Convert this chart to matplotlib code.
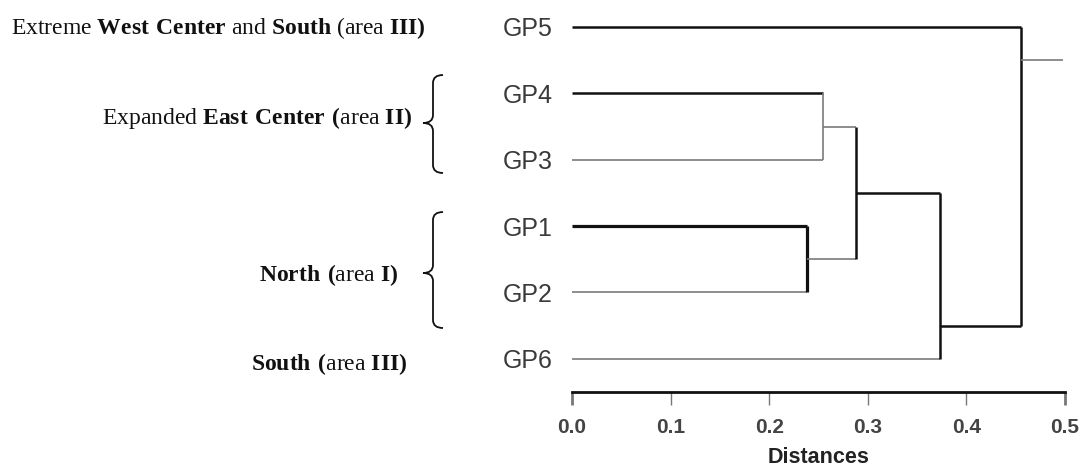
import matplotlib
matplotlib.use("Agg")
import matplotlib.pyplot as plt
from matplotlib.path import Path
from matplotlib.patches import PathPatch

plt.rcParams['mathtext.fontset'] = 'custom'
plt.rcParams['mathtext.rm'] = 'Liberation Serif'
plt.rcParams['mathtext.bf'] = 'Liberation Serif:bold'

# leaves from top to bottom
leaves = ["GP5", "GP4", "GP3", "GP1", "GP2", "GP6"]
rows = [0, 1, 2, 3, 4, 5]

# merge distances
h_gp4_gp3 = 0.255
h_gp1_gp2 = 0.238
h_pair = 0.288
h_gp6 = 0.373
h_gp5 = 0.455
h_root = 0.498

xticks = [0.0, 0.1, 0.2, 0.3, 0.4, 0.5]
xticklabels = ["0.0", "0.1", "0.2", "0.3", "0.4", "0.5"]

group_labels = [
    r"Extreme $\mathbf{West\ Center}$ and $\mathbf{South}$ (area $\mathbf{III)}$",
    r"Expanded $\mathbf{East\ Center\ (}$area $\mathbf{II)}$",
    r"$\mathbf{North\ (}$area $\mathbf{I)}$",
    r"$\mathbf{South\ (}$area $\mathbf{III)}$",
]

W, H = 1086, 468
fig = plt.figure(figsize=(W / 100, H / 100), dpi=100)

# dendrogram axes
ax = fig.add_axes([572 / W, (H - 392) / H, 493 / W, 391.6 / H])
ax.set_xlim(0, 0.5)
ax.set_ylim(5.5, -0.4)

black = dict(color="#111111", lw=1.8, solid_capstyle="butt")
thick = dict(color="#111111", lw=2.3, solid_capstyle="butt")
grey = dict(color="#7a7a7a", lw=1.2, solid_capstyle="butt")

r5, r4, r3, r1, r2, r6 = rows
ax.plot([0, h_gp5], [r5, r5], **black)
ax.plot([0, h_gp4_gp3], [r4, r4], **black)
ax.plot([0, h_gp4_gp3], [r3, r3], **grey)
ax.plot([h_gp4_gp3, h_gp4_gp3], [r4, r3], **grey)
ax.plot([0, h_gp1_gp2], [r1, r1], **thick)
ax.plot([0, h_gp1_gp2], [r2, r2], **grey)
ax.plot([h_gp1_gp2, h_gp1_gp2], [r1, r2], **thick)
m34 = (r4 + r3) / 2
m12 = (r1 + r2) / 2
ax.plot([h_gp4_gp3, h_pair], [m34, m34], **grey)
ax.plot([h_gp1_gp2, h_pair], [m12, m12], **grey)
ax.plot([h_pair, h_pair], [m34, m12], **black)
mp = (m34 + m12) / 2
ax.plot([h_pair, h_gp6], [mp, mp], **black)
ax.plot([0, h_gp6], [r6, r6], **grey)
ax.plot([h_gp6, h_gp6], [mp, r6], **black)
ax.plot([h_gp6, h_gp5], [4.5, 4.5], **black)
ax.plot([h_gp5, h_gp5], [r5, 4.5], **black)
ax.plot([h_gp5, h_root], [0.5, 0.5], **grey)

for s in ["top", "right", "left"]:
    ax.spines[s].set_visible(False)
ax.spines["bottom"].set_linewidth(2)
ax.spines["bottom"].set_color("#111111")

ax.set_yticks(rows)
ax.set_yticklabels(leaves, fontsize=18, color="#3a3a3a", family="Liberation Sans")
ax.tick_params(axis="y", length=0, pad=14)

ax.set_xticks(xticks)
ax.set_xticklabels(xticklabels, fontsize=15, fontweight="bold", color="#444444",
                   family="Liberation Sans")
ax.tick_params(axis="x", length=9, width=1, color="#777777", pad=10)
for i in (0, len(xticks) - 1):
    t = ax.xaxis.get_major_ticks()[i]
    t.tick1line.set_color("#111111")
    t.tick1line.set_markeredgewidth(2)
ax.set_xlabel("Distances", fontsize=15.5, fontweight="bold", color="#222222",
              family="Liberation Sans", labelpad=7)

# overlay in pixel coordinates for the group labels and braces
ov = fig.add_axes([0, 0, 1, 1], facecolor="none")
ov.set_xlim(0, W)
ov.set_ylim(H, 0)
ov.axis("off")

serif = dict(fontsize=17, va="center", color="#111111", family="Liberation Serif")
ov.text(11, 28, group_labels[0], ha="left", **serif)
ov.text(412, 118, group_labels[1], ha="right", **serif)
ov.text(398, 275, group_labels[2], ha="right", **serif)
ov.text(407, 364, group_labels[3], ha="right", **serif)


def brace(x_tip, x_end, y_top, y_mid, y_bot):
    xm = (x_tip + x_end) / 2
    r = 8
    verts = [(x_end, y_top), (xm, y_top), (xm, y_top + r),
             (xm, y_mid - r),
             (xm, y_mid), (x_tip, y_mid),
             (xm, y_mid), (xm, y_mid + r),
             (xm, y_bot - r),
             (xm, y_bot), (x_end, y_bot)]
    codes = [Path.MOVETO, Path.CURVE3, Path.CURVE3,
             Path.LINETO,
             Path.CURVE3, Path.CURVE3,
             Path.CURVE3, Path.CURVE3,
             Path.LINETO,
             Path.CURVE3, Path.CURVE3]
    ov.add_patch(PathPatch(Path(verts, codes), fill=False, lw=1.3, color="#111111"))


brace(423, 443, 75, 123, 173)
brace(423, 443, 212, 273, 328)

fig.savefig("out.png", dpi=100)
